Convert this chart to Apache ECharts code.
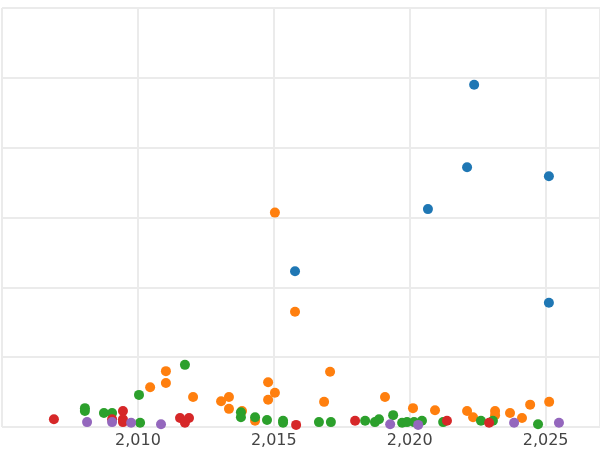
<!DOCTYPE html>
<html>
<head>
<meta charset="utf-8">
<script src="https://cdn.jsdelivr.net/npm/echarts@6/dist/echarts.min.js"></script>
<style>html,body{margin:0;padding:0;background:#fff}#chart{width:600px;height:450px}</style>
</head>
<body>
<div id="chart"></div>
<script>
const blue = [[2022.37,49.0],[2022.11,37.2],[2025.12,35.9],[2020.67,31.2],[2015.78,22.3],[2025.12,17.8]];
const orange = [[2011.03,8.0],[2011.03,6.3],[2010.45,5.7],[2012.03,4.3],[2013.06,3.7],[2013.35,4.3],
  [2013.35,2.6],[2013.83,2.3],[2014.31,0.9],[2014.79,6.4],[2015.04,4.9],[2014.79,3.9],[2015.04,30.7],
  [2015.78,16.5],[2017.07,7.9],[2016.85,3.6],[2019.09,4.3],[2020.12,2.7],[2020.93,2.4],[2022.11,2.3],
  [2022.33,1.4],[2023.14,2.3],[2023.14,1.7],[2023.69,2.0],[2024.13,1.3],[2024.43,3.2],[2025.13,3.6]];
const green = [[2011.73,8.9],[2010.04,4.6],[2008.05,2.7],[2008.05,2.3],[2008.75,2.0],[2009.05,2.0],
  [2010.08,0.6],[2013.79,2.1],[2013.79,1.4],[2014.31,1.4],[2014.75,1.0],[2015.34,0.9],[2015.34,0.6],
  [2016.66,0.7],[2017.10,0.7],[2018.36,0.9],[2018.72,0.7],[2018.87,1.1],[2019.39,1.7],[2019.72,0.6],
  [2019.90,0.7],[2020.16,0.7],[2020.45,0.9],[2021.23,0.7],[2022.62,0.9],[2023.06,0.9],[2024.72,0.4]];
const red = [[2006.91,1.1],[2009.05,1.1],[2009.45,2.3],[2009.45,1.1],[2009.45,0.7],[2011.55,1.3],
  [2011.88,1.3],[2011.73,0.6],[2015.82,0.3],[2017.99,0.9],[2021.37,0.9],[2022.92,0.6]];
const purple = [[2008.13,0.7],[2009.05,0.7],[2009.75,0.6],[2010.85,0.4],[2019.28,0.4],[2020.31,0.3],
  [2023.84,0.6],[2025.49,0.6]];

const colors = ['#1f77b4','#ff7f0e','#2ca02c','#d62728','#9467bd'];
const groups = [blue, orange, green, red, purple];

const chart = echarts.init(document.getElementById('chart'));
chart.setOption({
  animation: false,
  backgroundColor: '#fff',
  grid: { left: 2, right: 0, top: 8, bottom: 23, containLabel: false, outerBoundsMode: 'none' },
  xAxis: {
    type: 'value', min: 2005, max: 2027, interval: 5,
    axisLine: { show: false }, axisTick: { show: false },
    axisLabel: { color: '#444', fontSize: 16, fontFamily: 'DejaVu Sans', margin: 6,
      showMinLabel: false, showMaxLabel: false },
    splitLine: { lineStyle: { color: '#ebebeb', width: 2 } }
  },
  yAxis: {
    type: 'value', min: 0, max: 60, interval: 10,
    axisLine: { show: false }, axisTick: { show: false },
    axisLabel: { show: false },
    splitLine: { lineStyle: { color: '#ebebeb', width: 2 } }
  },
  series: groups.map((d, i) => ({
    type: 'scatter', data: d, symbolSize: 10, clip: true,
    itemStyle: { color: colors[i], opacity: 1 }
  }))
});
</script>
</body>
</html>
